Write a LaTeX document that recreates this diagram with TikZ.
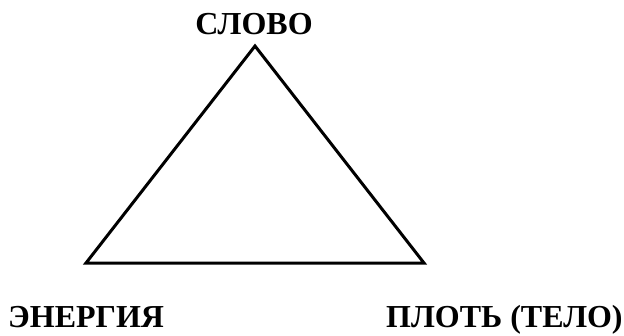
\documentclass[tikz,border=0pt]{standalone}
\usepackage{fontspec}
\setmainfont{Liberation Serif}
\tikzset{
  vertexlabel/.style={font=\bfseries\fontsize{32}{32}\selectfont,inner sep=0pt},
  side/.style={line width=3pt,line join=miter}
}
\begin{document}
\begin{tikzpicture}[x=1pt,y=1pt]
  \useasboundingbox (0,0) rectangle (624,335);
  \coordinate (apex) at (255,289);
  \coordinate (left) at (86,72);
  \coordinate (right) at (424,72);
  \draw[side] (apex) -- (left) -- (right) -- cycle;
  \node[vertexlabel,anchor=base] (slovo) at (254,300) {СЛОВО};
  \node[vertexlabel,anchor=base west] (energiya) at (8,7.5) {ЭНЕРГИЯ};
  \node[vertexlabel,anchor=base west] (plot) at (386,7.5) {ПЛОТЬ (ТЕЛО)};
\end{tikzpicture}
\end{document}
